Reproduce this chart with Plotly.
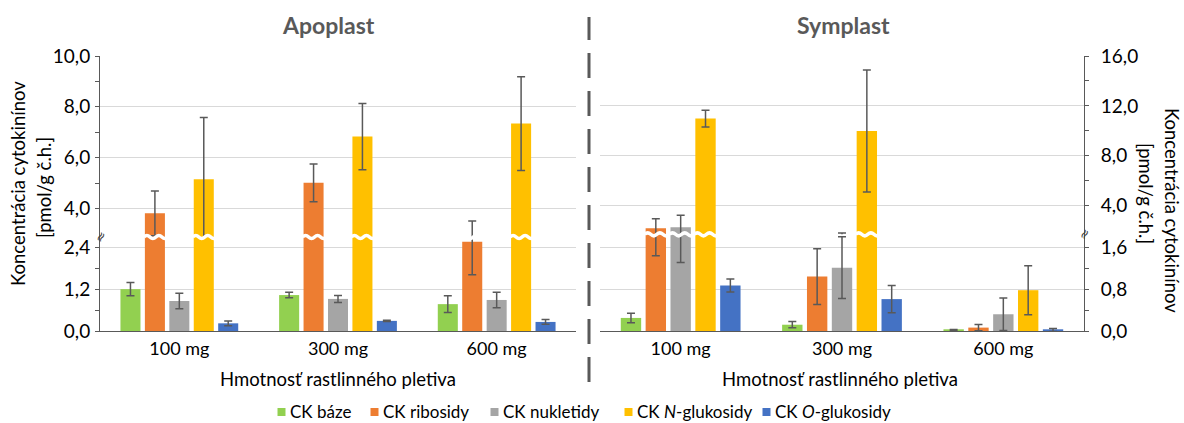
import plotly.graph_objects as go

# ---------------- data ----------------
categories = ["100 mg", "300 mg", "600 mg"]
series_names = ["CK báze", "CK ribosidy", "CK nukletidy",
                "CK <i>N</i>-glukosidy", "CK <i>O</i>-glukosidy"]
series_colors = ["#92D050", "#ED7D31", "#A5A5A5", "#FFC000", "#4472C4"]

# Apoplast (left axis)
apo_baze = [1.20, 1.03, 0.77]
apo_baze_err = [0.19, 0.08, 0.24]
apo_ribosidy = [3.81, 5.01, 2.56]
apo_ribosidy_err = [0.88, 0.74, 0.95]
apo_nukletidy = [0.86, 0.92, 0.89]
apo_nukletidy_err = [0.22, 0.10, 0.22]
apo_n_glukosidy = [5.15, 6.83, 7.34]
apo_n_glukosidy_err = [2.43, 1.30, 1.84]
apo_o_glukosidy = [0.22, 0.29, 0.26]
apo_o_glukosidy_err = [0.07, 0.02, 0.07]

# Symplast (right axis)
sym_baze = [0.25, 0.12, 0.015]
sym_baze_err = [0.09, 0.06, 0.015]
sym_ribosidy = [2.19, 1.04, 0.065]
sym_ribosidy_err = [0.75, 0.535, 0.06]
sym_nukletidy = [2.27, 1.21, 0.32]
sym_nukletidy_err = [0.96, 0.59, 0.31]
sym_n_glukosidy = [10.98, 9.99, 0.78]
sym_n_glukosidy_err = [0.67, 4.89, 0.47]
sym_o_glukosidy = [0.87, 0.61, 0.02]
sym_o_glukosidy_err = [0.125, 0.26, 0.03]

# axis ticks
apo_low_ticks = [0, 1.2, 2.4]
apo_low_ticktext = ["0,0", "1,2", "2,4"]
apo_low_minor = [0.6, 1.8]
apo_up_ticks = [4, 6, 8, 10]
apo_up_ticktext = ["4,0", "6,0", "8,0", "10,0"]
apo_up_minor = [5, 7, 9]
sym_low_ticks = [0, 0.8, 1.6]
sym_low_ticktext = ["0,0", "0,8", "1,6"]
sym_low_minor = [0.4, 1.2]
sym_up_ticks = [4, 8, 12, 16]
sym_up_ticktext = ["4,0", "8,0", "12,0", "16,0"]
sym_up_minor = [6, 10, 14]

# ---------------- layout geometry ----------------
W, H = 1184, 423
TOP, BOTTOM = 56, 331          # plot area in px
PH = BOTTOM - TOP


def py(p):
    """pixel y -> paper y"""
    return (BOTTOM - p) / PH


def px(p):
    return p / W


apo_dom = [100 / W, 576 / W]
sym_dom = [600 / W, 1084 / W]
apo_break = py(237)
sym_break = py(234.3)
apo_low_range = [0, 2.695]
apo_up_range = [2.88, 10]
sym_low_range = [0, 1.849]
sym_up_range = [1.70, 16]

BARGAP = 0.23
BARGROUPGAP = 0.18

apo_values = [apo_baze, apo_ribosidy, apo_nukletidy, apo_n_glukosidy, apo_o_glukosidy]
apo_errors = [apo_baze_err, apo_ribosidy_err, apo_nukletidy_err,
              apo_n_glukosidy_err, apo_o_glukosidy_err]
sym_values = [sym_baze, sym_ribosidy, sym_nukletidy, sym_n_glukosidy, sym_o_glukosidy]
sym_errors = [sym_baze_err, sym_ribosidy_err, sym_nukletidy_err,
              sym_n_glukosidy_err, sym_o_glukosidy_err]

ERR_COLOR = "#595959"
AXIS_COLOR = "#595959"
GRID_COLOR = "#D9D9D9"
FONT = "Lato"

fig = go.Figure()

panels = [
    (apo_values, apo_errors, "x", ["y", "y2"]),
    (sym_values, sym_errors, "x2", ["y3", "y4"]),
]
for vals, errs, xa, yas in panels:
    for ya in yas:
        for j in range(5):
            fig.add_trace(go.Bar(
                x=categories, y=vals[j], xaxis=xa, yaxis=ya,
                name=series_names[j], legendgroup=series_names[j],
                showlegend=False,
                marker=dict(color=series_colors[j], line=dict(width=0)),
                error_y=dict(type="data", array=errs[j], visible=True,
                             color=ERR_COLOR, thickness=1.5, width=4),
                hoverinfo="skip",
            ))

# legend entries: one small legend per series so spacing matches the original
legend_text_x = [290, 383, 503, 637, 775]
legend_names = ["legend", "legend2", "legend3", "legend4", "legend5"]
for j in range(5):
    fig.add_trace(go.Scatter(
        x=[None], y=[None], mode="markers", name=series_names[j],
        legendgroup=series_names[j], legend=legend_names[j],
        marker=dict(symbol="square", size=9, color="rgba(0,0,0,0)"),
    ))

axis_font = dict(family=FONT, size=18, color="#000000")
ytick_font = dict(family=FONT, size=19, color="#000000")


def yaxis(dom, rng, ticks, ticktext, minor, side, anchor):
    return dict(
        domain=dom, range=rng, anchor=anchor, side=side,
        tickmode="array", tickvals=ticks, ticktext=ticktext,
        showgrid=True, gridcolor=GRID_COLOR, gridwidth=1,
        zeroline=False, showline=True, linecolor=AXIS_COLOR, linewidth=1,
        ticks="outside", ticklen=4, tickcolor=AXIS_COLOR,
        minor=dict(tickmode="array", tickvals=minor, ticks="outside",
                   ticklen=4, tickcolor=AXIS_COLOR, showgrid=False),
        tickfont=ytick_font, automargin=False, fixedrange=True,
        ticklabelstandoff=1 if side == "left" else 8,
    )


def xaxis(dom, anchor):
    return dict(
        domain=dom, anchor=anchor, type="category",
        showline=True, linecolor=AXIS_COLOR, linewidth=1.2,
        ticks="", showgrid=False, zeroline=False,
        tickfont=axis_font, automargin=False, fixedrange=True,
        ticklabelstandoff=1, range=[-0.5, 2.5],
    )


legend_font = dict(family=FONT, size=17, color="#000000")
layout_legends = {}
for j in range(5):
    layout_legends[legend_names[j]] = dict(
        orientation="h", x=(legend_text_x[j] - 40) / W, xanchor="left",
        y=py(412), yanchor="middle", font=legend_font,
        itemwidth=30, bgcolor="rgba(0,0,0,0)", borderwidth=0)

fig.update_layout(
    width=W, height=H,
    margin=dict(l=0, r=0, t=TOP, b=H - BOTTOM, pad=0, autoexpand=False),
    paper_bgcolor="white", plot_bgcolor="white",
    font=dict(family=FONT, size=17, color="#000000"),
    barmode="group", bargap=BARGAP, bargroupgap=BARGROUPGAP,
    xaxis=xaxis(apo_dom, "y"),
    xaxis2=xaxis(sym_dom, "y3"),
    yaxis=yaxis([0, apo_break], apo_low_range, apo_low_ticks, apo_low_ticktext,
                apo_low_minor, "left", "x"),
    yaxis2=yaxis([apo_break, 1], apo_up_range, apo_up_ticks, apo_up_ticktext,
                 apo_up_minor, "left", "x"),
    yaxis3=yaxis([0, sym_break], sym_low_range, sym_low_ticks, sym_low_ticktext,
                 sym_low_minor, "right", "x2"),
    yaxis4=yaxis([sym_break, 1], sym_up_range, sym_up_ticks, sym_up_ticktext,
                 sym_up_minor, "right", "x2"),
    showlegend=True,
    **layout_legends,
)

# ---------------- annotations ----------------
ann = []
title_font = dict(family=FONT, size=23, color="#595959")
ann.append(dict(text="<b>Apoplast</b>", x=px(328), y=py(25), xref="paper", yref="paper",
                showarrow=False, font=title_font, xanchor="center", yanchor="middle"))
ann.append(dict(text="<b>Symplast</b>", x=px(843), y=py(25), xref="paper", yref="paper",
                showarrow=False, font=title_font, xanchor="center", yanchor="middle"))
lab_font = dict(family=FONT, size=18.5, color="#000000")
for xc in (338, 840):
    ann.append(dict(text="Hmotnosť rastlinného pletiva", x=px(xc), y=py(379),
                    xref="paper", yref="paper", showarrow=False, font=lab_font,
                    xanchor="center", yanchor="middle"))
ann.append(dict(text="Koncentrácia cytokinínov", x=px(18), y=py(184), xref="paper",
                yref="paper", showarrow=False, font=lab_font, textangle=-90,
                xanchor="center", yanchor="middle"))
ann.append(dict(text="[pmol/g č.h.]", x=px(44), y=py(188), xref="paper",
                yref="paper", showarrow=False, font=lab_font, textangle=-90,
                xanchor="center", yanchor="middle"))
ann.append(dict(text="Koncentrácia cytokinínov", x=px(1172), y=py(210), xref="paper",
                yref="paper", showarrow=False, font=lab_font, textangle=90,
                xanchor="center", yanchor="middle"))
ann.append(dict(text="[pmol/g č.h.]", x=px(1146), y=py(193), xref="paper",
                yref="paper", showarrow=False, font=lab_font, textangle=90,
                xanchor="center", yanchor="middle"))
# axis break marks
for xb, yb in ((apo_dom[0], apo_break), (sym_dom[1], sym_break)):
    ann.append(dict(text="≈", x=xb, y=yb, xref="paper", yref="paper", showarrow=False,
                    font=dict(family="DejaVu Sans", size=13, color="#404040"),
                    textangle=-60, xanchor="center", yanchor="middle"))

# ---------------- shapes ----------------
shapes = []
shapes.append(dict(type="line", xref="paper", yref="paper",
                   x0=px(589), x1=px(589), y0=py(382), y1=py(17),
                   line=dict(color="#595959", width=3, dash="25px,13px")))

# legend colour keys placed close to their text, as in the original
for j in range(5):
    cx = legend_text_x[j] - 8.5
    shapes.append(dict(type="rect", xref="paper", yref="paper",
                       x0=px(cx - 4), x1=px(cx + 4), y0=py(412 + 4), y1=py(412 - 4),
                       fillcolor=series_colors[j], line=dict(width=0)))


def wave(x0p, x1p, yb):
    per = (x1p - x0p) / 2
    amp = 3.0 / PH
    path = f"M{x0p},{yb}"
    for k in range(2):
        s = x0p + k * per
        path += (f" Q{s + per / 4},{yb + amp} {s + per / 2},{yb}"
                 f" Q{s + 3 * per / 4},{yb - amp} {s + per},{yb}")
    return path


slot = (1 - BARGAP) / 5
for vals, errs, dom, low_rng, yb in ((apo_values, apo_errors, apo_dom, apo_low_range, apo_break),
                                     (sym_values, sym_errors, sym_dom, sym_low_range, sym_break)):
    cat_w = (dom[1] - dom[0]) / 3
    bw = slot * (1 - BARGROUPGAP) * cat_w
    for j in range(5):
        for i in range(3):
            if vals[j][i] + errs[j][i] > low_rng[1]:
                off = -(1 - BARGAP) / 2 + slot * (j + 0.5)
                xc = dom[0] + (i + 0.5 + off) * cat_w
                shapes.append(dict(type="path", xref="paper", yref="paper",
                                   path=wave(xc - bw / 2 - 1 / W, xc + bw / 2 + 3 / W, yb),
                                   line=dict(color="white", width=3.5),
                                   layer="above"))

fig.update_layout(annotations=ann, shapes=shapes)

fig.write_html("out.html", config={"displayModeBar": False})
